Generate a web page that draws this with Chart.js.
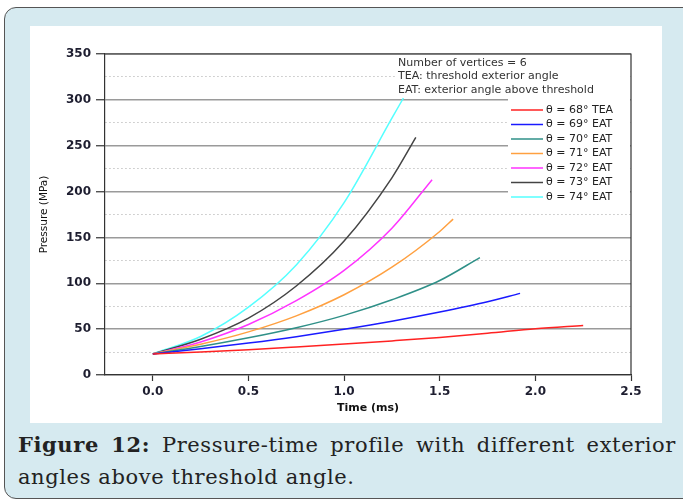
<!DOCTYPE html>
<html>
<head>
<meta charset="utf-8">
<script src="https://cdn.jsdelivr.net/npm/chart.js@4.4.1/dist/chart.umd.min.js"></script>
<style>
  html, body { margin: 0; padding: 0; background: #fff; width: 683px; height: 502px; overflow: hidden; }
  .frame {
    position: absolute; left: 4px; top: 7px; width: 700px; height: 490px;
    background: #d6eaf0; border: 1.5px solid #555; border-radius: 12px;
  }
  .panel { position: absolute; left: 30px; top: 26px; width: 632px; height: 397px; background: #fff; }
  .caption {
    position: absolute; left: 18px; top: 429px; width: 658px;
    font-family: "DejaVu Serif", serif; font-size: 21px; letter-spacing: 0.6px; color: #222; line-height: 32px;
  }
  .caption .l1 { text-align: justify; text-align-last: justify; }
  .caption b { font-weight: bold; }
</style>
</head>
<body>
<div class="frame"></div>
<div class="panel"><canvas id="chart" width="632" height="397"></canvas></div>
<div class="caption">
  <div class="l1"><b>Figure 12:</b> Pressure-time profile with different exterior</div>
  <div>angles above threshold angle.</div>
</div>
<script>
// values
const seriesLabels = ['θ = 68° TEA', 'θ = 69° EAT', 'θ = 70° EAT', 'θ = 71° EAT', 'θ = 72° EAT', 'θ = 73° EAT', 'θ = 74° EAT'];
const seriesColors = ['#ff2222', '#1a1aff', '#2f9088', '#ffa040', '#ff33ff', '#444444', '#55ffff'];
const noteLines = ['Number of vertices = 6', 'TEA: threshold exterior angle', 'EAT: exterior angle above threshold'];

const time68 = [0, 0.25, 0.5, 0.75, 1.0, 1.25, 1.5, 1.75, 2.0, 2.25];
const pres68 = [23, 25, 27.5, 30.5, 33.7, 37.2, 41, 45.5, 50.5, 54];
const time69 = [0, 0.25, 0.5, 0.75, 1.0, 1.25, 1.5, 1.75, 1.92];
const pres69 = [23, 28.5, 34.8, 41.8, 49.8, 58.6, 68.6, 79.8, 89];
const time70 = [0, 0.25, 0.5, 0.75, 1.0, 1.25, 1.5, 1.71];
const pres70 = [23, 31, 40.5, 51.5, 65, 82, 103, 128];
const time71 = [0, 0.25, 0.5, 0.75, 1.0, 1.25, 1.5, 1.57];
const pres71 = [23, 33.5, 47, 64.5, 87.5, 117.5, 156.5, 170];
const time72 = [0, 0.25, 0.5, 0.75, 1.0, 1.25, 1.46];
const pres72 = [23, 36, 55, 81, 114, 160, 213];
const time73 = [0, 0.25, 0.5, 0.75, 1.0, 1.25, 1.375];
const pres73 = [23, 39, 62, 97, 146, 215, 259];
const time74 = [0, 0.25, 0.5, 0.75, 1.0, 1.25, 1.31];
const pres74 = [23, 42, 74, 120, 188, 280, 302];

const xTicks = [0, 0.5, 1.0, 1.5, 2.0, 2.5];
const yTicks = [0, 50, 100, 150, 200, 250, 300, 350];

const allTimes = [time68, time69, time70, time71, time72, time73, time74];
const allPres = [pres68, pres69, pres70, pres71, pres72, pres73, pres74];

const datasets = seriesLabels.map((label, i) => ({
  label: label,
  data: allTimes[i].map((t, j) => ({ x: t, y: allPres[i][j] })),
  borderColor: seriesColors[i],
  backgroundColor: seriesColors[i],
  borderWidth: 1.5,
  pointRadius: 0,
  cubicInterpolationMode: 'monotone',
  fill: false
}));

const isMajor = v => yTicks.includes(v);
const tickFont = { family: 'DejaVu Sans', size: 12, weight: 'bold' };

// legend + notes drawn inside the plot
const overlay = {
  id: 'overlay',
  beforeDatasetsDraw(chart) {
    const { ctx, chartArea: a } = chart;
    ctx.save();
    ctx.fillStyle = '#fff';
    ctx.fillRect(a.right - 234, a.top + 1, 233, 41);
    ctx.fillRect(a.right - 123, a.top + 45, 122, 106);
    ctx.restore();
  },
  afterDraw(chart) {
    const { ctx, chartArea: a } = chart;
    ctx.save();
    ctx.strokeStyle = '#333';
    ctx.lineWidth = 1.2;
    ctx.beginPath();
    ctx.moveTo(a.left, a.top);
    ctx.lineTo(a.right, a.top);
    ctx.lineTo(a.right, a.bottom);
    ctx.stroke();

    ctx.font = '11px "DejaVu Sans"';
    ctx.textBaseline = 'middle';
    ctx.fillStyle = '#333';
    noteLines.forEach((s, i) => ctx.fillText(s, a.right - 233, a.top + 9 + i * 13.5));

    chart.data.datasets.forEach((ds, i) => {
      const y = a.top + 56 + i * 14.5;
      ctx.strokeStyle = ds.borderColor;
      ctx.lineWidth = 1.5;
      ctx.beginPath();
      ctx.moveTo(a.right - 120, y);
      ctx.lineTo(a.right - 88, y);
      ctx.stroke();
      ctx.fillStyle = '#222';
      ctx.fillText(ds.label, a.right - 85, y);
    });
    ctx.restore();
  }
};

new Chart(document.getElementById('chart'), {
  type: 'line',
  data: { datasets: datasets },
  options: {
    responsive: false,
    animation: false,
    devicePixelRatio: 1,
    layout: { padding: { top: 28, right: 31, left: 0, bottom: 0 } },
    plugins: { legend: { display: false }, tooltip: { enabled: false } },
    scales: {
      x: {
        type: 'linear',
        min: -0.25,
        max: 2.5,
        afterBuildTicks: s => { s.ticks = xTicks.map(v => ({ value: v })); },
        afterFit: s => { s.height = 48; },
        ticks: {
          callback: v => v.toFixed(1),
          font: tickFont, color: '#1e1e30', padding: 4, maxRotation: 0
        },
        grid: { drawOnChartArea: false, tickLength: 6, tickColor: '#333', tickWidth: 1.2 },
        border: { color: '#333', width: 1.2 },
        title: {
          display: true, text: 'Time (ms)', color: '#111',
          font: { family: 'DejaVu Sans', size: 11, weight: 'bold' },
          padding: { top: 0, bottom: 8 }
        }
      },
      y: {
        min: 0,
        max: 350,
        afterFit: s => { s.width = 75; },
        ticks: {
          stepSize: 25,
          callback: v => isMajor(v) ? String(v) : '',
          font: tickFont, color: '#1e1e30', padding: 5
        },
        grid: {
          color: c => isMajor(c.tick.value) ? '#9a9a9a' : '#c4c4c4',
          lineWidth: c => isMajor(c.tick.value) ? 1.5 : 1,
          tickColor: c => isMajor(c.tick.value) ? '#333' : 'rgba(0,0,0,0)',
          tickLength: 9,
          tickWidth: 1.2
        },
        border: {
          color: '#333', width: 1.2,
          dash: c => (c.tick && !isMajor(c.tick.value)) ? [1.5, 2.5] : []
        },
        title: {
          display: true, text: 'Pressure (MPa)', color: '#111',
          font: { family: 'DejaVu Sans', size: 10.5 },
          padding: { top: 8, bottom: 0 }
        }
      }
    }
  },
  plugins: [overlay]
});
</script>
</body>
</html>
